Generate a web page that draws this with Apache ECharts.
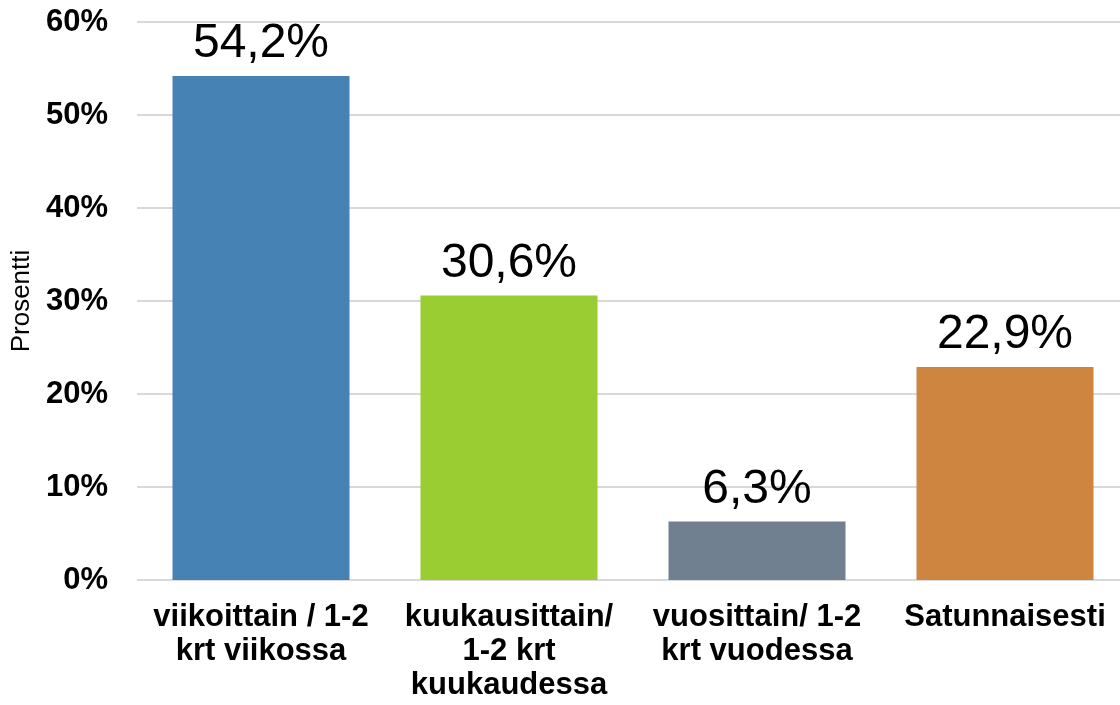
<!DOCTYPE html>
<html>
<head>
<meta charset="utf-8">
<script src="https://cdn.jsdelivr.net/npm/echarts@6/dist/echarts.min.js"></script>
<style>
  html, body { margin: 0; padding: 0; background: #fff; }
  #chart { width: 1120px; height: 705px; }
</style>
</head>
<body>
<div id="chart"></div>
<script>
// categories and values (percent)
const categories = [
  'viikoittain / 1-2\nkrt viikossa',
  'kuukausittain/\n1-2 krt\nkuukaudessa',
  'vuosittain/ 1-2\nkrt vuodessa',
  'Satunnaisesti'
];
const values = [54.2, 30.6, 6.3, 22.9];
const barColors = ['#4682B4', '#9ACD32', '#708090', '#CD853F'];

const myChart = echarts.init(document.getElementById('chart'));

const option = {
  animation: false,
  grid: {
    left: 137,
    right: -9,
    top: 22,
    bottom: 125,
    outerBoundsMode: 'none',
    containLabel: false
  },
  xAxis: {
    type: 'category',
    data: categories,
    axisLine: { show: false },
    axisTick: { show: false },
    axisLabel: {
      interval: 0,
      margin: 20,
      color: '#000',
      fontFamily: 'Liberation Sans, Arial, sans-serif',
      fontWeight: 'bold',
      fontSize: 31,
      lineHeight: 34
    }
  },
  yAxis: {
    type: 'value',
    min: 0,
    max: 60,
    interval: 10,
    name: 'Prosentti',
    nameLocation: 'middle',
    nameGap: 102,
    nameRotate: 90,
    nameTextStyle: {
      color: '#000',
      fontFamily: 'Liberation Sans, Arial, sans-serif',
      fontSize: 26
    },
    axisLine: { show: false },
    axisTick: { show: false },
    axisLabel: {
      margin: 29,
      color: '#000',
      fontFamily: 'Liberation Sans, Arial, sans-serif',
      fontWeight: 'bold',
      fontSize: 31,
      formatter: v => v + '%'
    },
    splitLine: {
      lineStyle: { color: '#d9d9d9', width: 2 }
    }
  },
  series: [{
    type: 'bar',
    barWidth: 177,
    data: values.map((v, i) => ({ value: v, itemStyle: { color: barColors[i] } })),
    label: {
      show: true,
      position: 'top',
      distance: 8,
      color: '#000',
      fontFamily: 'Liberation Sans, Arial, sans-serif',
      fontSize: 48,
      formatter: p => p.value.toFixed(1).replace('.', ',') + '%'
    }
  }]
};

myChart.setOption(option);
</script>
</body>
</html>
